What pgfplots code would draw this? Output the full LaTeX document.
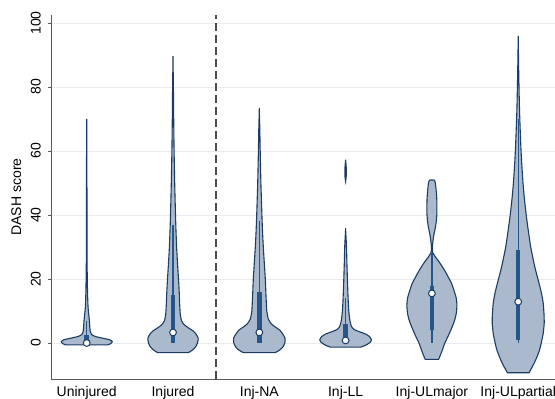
\documentclass[border=0pt]{standalone}
\usepackage{fontspec}
\setmainfont{Liberation Sans}
\usepackage{pgfplots}
\pgfplotsset{compat=1.18}
\usepackage{pgfplotstable}

\definecolor{vfill}{RGB}{170,185,204}
\definecolor{vline}{RGB}{28,60,100}
\definecolor{vbox}{RGB}{38,86,136}
\definecolor{gridc}{RGB}{232,236,241}

% y  w (half-width in px, 86.3 px = one category)
\pgfplotstableread{
y w
-0.6 21
-0.2 24
0.4 25.5
1.0 23
1.5 16
2.0 9
2.6 5
3.5 3.6
5 3.1
7 2.7
9 2
11 1.4
14 1
18 0.7
25 0.4
40 0.3
55 0.2
69 0
}\vA
\pgfplotstableread{
y w
-3.0 15.5
-2.3 19
-1.3 22.5
0 24.5
1.5 25.2
2.8 23
3.8 20
4.8 15
5.8 11
7 8.5
9 7.3
12 6.7
16 6.2
20 5.5
25 4.5
30 3.6
35 3
40 2.5
50 1.7
60 1.1
70 0.7
80 0.4
89 0
}\vB
\pgfplotstableread{
y w
-3.0 16
-2.3 20
-1.3 23.5
0 25.5
1.5 25.7
3 23
4 20.5
5 16
6 12
7.5 9
10 7.5
14 6.8
20 6
25 5
30 4
35 3.2
40 2.6
50 1.6
60 0.9
67 0.5
73 0
}\vC
\pgfplotstableread{
y w
-1.3 15
-0.7 20
0.2 24.5
1.0 25.8
2.0 24
2.8 20
3.5 14
4.2 8.5
5.2 5.8
7 4.3
10 3.2
14 2.5
20 1.8
25 1.3
30 0.9
35.5 0
}\vD
\pgfplotstableread{
y w
50.5 0
52 0.6
55 0.6
57.3 0
}\vDb
\pgfplotstableread{
y w
-5.1 6.7
-3 9.5
-0.1 12.8
2 16
4.1 19
6 21.5
7.7 23.3
9.5 24.5
11.4 25
13 24.8
14.5 24
16.5 22
18.6 19.7
20.7 16.2
22.8 12.5
25 8
27 3.3
28.3 0.8
29.5 0.5
31 0.7
32.2 1.2
33.5 1.8
34.8 2.6
36.5 3.7
38.4 4.5
40.5 5
42.6 5
44.8 4.9
46.8 4.5
48.5 4
50.2 3.3
50.9 2.5
}\vE
\pgfplotstableread{
y w
-9.3 10.8
-7.5 14
-5.3 17.5
-2.5 21
-0.1 23
3 25
6.2 26
9 25.8
12.4 25
15.5 23.3
18.7 20.8
21.8 18.2
24.9 15.8
30 12.5
35.3 10
40 8
45.7 6
50 4.8
56.2 3.5
61 2.7
66.6 2
72 1.4
77 1
85 0.5
95.2 0
}\vF

% mirror each profile: right side upwards, then left side downwards
\newcommand{\mkviolin}[1]{%
  \pgfplotstablesort[sort key=y, sort cmp={float >}]{\tmprev}{#1}%
  \pgfplotstablecreatecol[expr={-1}]{s}{\tmprev}%
  \pgfplotstablecreatecol[expr={1}]{s}{#1}%
  \pgfplotstablevertcat{#1}{\tmprev}%
}
\mkviolin{\vA}
\mkviolin{\vB}
\mkviolin{\vC}
\mkviolin{\vD}
\mkviolin{\vDb}
\mkviolin{\vE}
\mkviolin{\vF}

\newcommand{\violin}[2]{%
  \addplot[fill=vfill, draw=vline, line width=1.1bp, smooth, tension=0.35, forget plot]
    table[x expr={#1+\thisrow{s}*\thisrow{w}/86.3}, y=y] {#2} -- cycle;
}

\begin{document}
\begin{tikzpicture}[font=\fontsize{14bp}{16bp}\selectfont]
\begin{axis}[
  name=main,
  scale only axis,
  width=504bp, height=364bp,
  xmin=-0.4137, xmax=5.4264,
  ymin=-11.25, ymax=102.5,
  axis x line*=bottom, axis y line*=left,
  axis line style={-, draw=black!65, line width=0.9bp},
  xtick={0,1,2,3,4,5},
  xticklabels={Uninjured,Injured,Inj-NA,Inj-LL,Inj-ULmajor,Inj-ULpartial},
  major x tick style={draw=none},
  ytick={0,20,40,60,80,100},
  tick align=outside,
  major tick length=3bp,
  y tick style={draw=black!65, line width=0.8bp},
  ymajorgrids,
  grid style={draw=gridc, line width=0.9bp},
  yticklabel style={rotate=90, anchor=south, inner sep=2bp},
  yticklabel shift=5bp,
  xticklabel style={anchor=north, inner sep=2bp, yshift=-2bp},
  /pgf/number format/assume math mode=true,
  ylabel={DASH score},
  ylabel style={yshift=4bp},
  clip=false,
]
\addplot[draw=black!70, dash pattern=on 8bp off 4bp, line width=1.6bp, forget plot]
  coordinates {(1.5,-11.25) (1.5,102.5)};

\violin{0}{\vA}
\violin{1}{\vB}
\violin{2}{\vC}
\violin{3}{\vD}
\violin{3}{\vDb}
\violin{4}{\vE}
\violin{5}{\vF}

% whiskers
\addplot[vbox, line width=1.2bp, forget plot] coordinates {(0,0) (0,7)};
\addplot[vbox, line width=1.2bp, forget plot] coordinates {(1,0) (1,37)};
\addplot[vbox, line width=1.2bp, forget plot] coordinates {(2,0) (2,38)};
\addplot[vbox, line width=1.2bp, forget plot] coordinates {(3,0) (3,14)};
\addplot[vbox, line width=1.2bp, forget plot] coordinates {(4,0) (4,28)};
\addplot[vbox, line width=1.2bp, forget plot] coordinates {(5,0) (5,70)};
% interquartile bars
\addplot[vbox, line width=4.5bp, forget plot] coordinates {(0,0) (0,2.5)};
\addplot[vbox, line width=4.5bp, forget plot] coordinates {(1,0) (1,15)};
\addplot[vbox, line width=4.5bp, forget plot] coordinates {(2,0) (2,15.8)};
\addplot[vbox, line width=4.5bp, forget plot] coordinates {(3,0) (3,5.8)};
\addplot[vbox, line width=4.5bp, forget plot] coordinates {(4,4.2) (4,17.8)};
\addplot[vbox, line width=4.5bp, forget plot] coordinates {(5,0.8) (5,29)};
% medians
\addplot[only marks, mark=*, mark size=3.4bp,
  mark options={fill=white, draw=vline, line width=1bp}, forget plot]
  coordinates {(0,0) (1,3.3) (2,3.3) (3,0.8) (4,15.5) (5,12.9)};
\end{axis}
\pgfresetboundingbox
\path[use as bounding box] ([xshift=-51bp,yshift=-20bp]main.south west) rectangle ([yshift=15bp]main.north east);
\end{tikzpicture}
\end{document}
